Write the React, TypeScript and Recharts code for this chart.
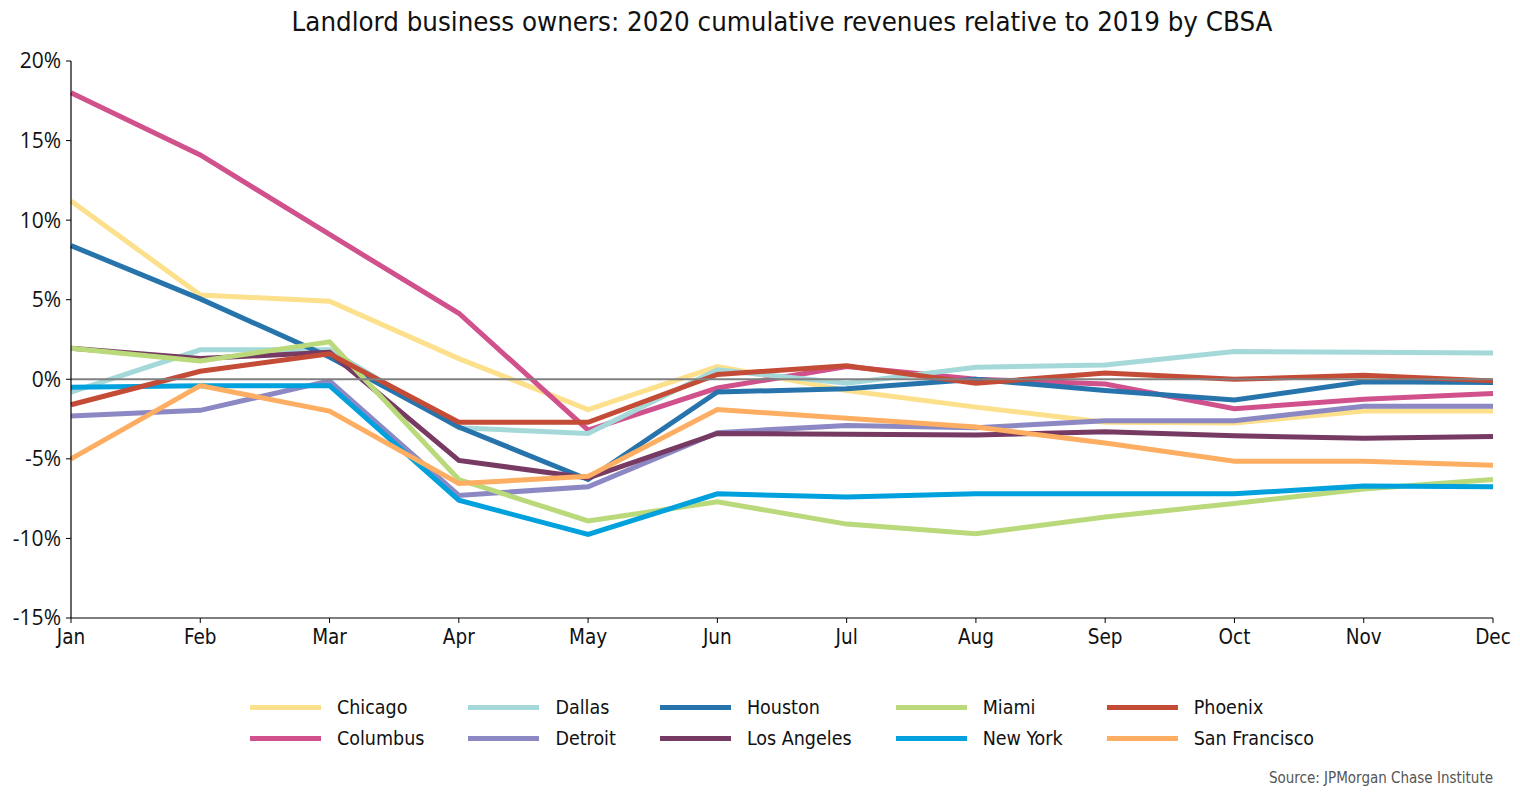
import React from 'react';
import { LineChart, Line, XAxis, YAxis, ReferenceLine } from 'recharts';

const months = ['Jan', 'Feb', 'Mar', 'Apr', 'May', 'Jun', 'Jul', 'Aug', 'Sep', 'Oct', 'Nov', 'Dec'];

const chicago = [11.2, 5.3, 4.9, 1.3, -1.9, 0.8, -0.7, -1.75, -2.7, -2.75, -2.0, -2.0];
const columbus = [18.0, 14.1, 9.1, 4.15, -3.2, -0.55, 0.8, 0.0, -0.3, -1.85, -1.25, -0.9];
const dallas = [-0.8, 1.85, 1.85, -3.05, -3.4, 0.6, -0.25, 0.75, 0.9, 1.75, 1.7, 1.65];
const detroit = [-2.3, -1.95, -0.1, -7.3, -6.75, -3.35, -2.9, -3.05, -2.6, -2.6, -1.7, -1.7];
const houston = [8.4, 5.05, 1.4, -3.0, -6.3, -0.8, -0.6, 0.0, -0.7, -1.3, -0.15, -0.2];
const losAngeles = [1.95, 1.3, 1.7, -5.1, -6.2, -3.4, -3.45, -3.5, -3.3, -3.55, -3.7, -3.6];
const miami = [1.95, 1.15, 2.35, -6.3, -8.9, -7.7, -9.1, -9.7, -8.65, -7.8, -6.9, -6.3];
const newYork = [-0.5, -0.4, -0.4, -7.6, -9.75, -7.2, -7.4, -7.2, -7.2, -7.2, -6.7, -6.75];
const phoenix = [-1.6, 0.5, 1.6, -2.7, -2.7, 0.3, 0.85, -0.25, 0.4, 0.0, 0.25, -0.1];
const sanFrancisco = [-5.0, -0.4, -2.0, -6.55, -6.1, -1.9, -2.45, -3.0, -4.0, -5.15, -5.15, -5.4];

const yTicks = [-15, -10, -5, 0, 5, 10, 15, 20];

const series = [
  { key: 'chicago', name: 'Chicago', values: chicago, color: '#fde08c' },
  { key: 'columbus', name: 'Columbus', values: columbus, color: '#d0518c' },
  { key: 'dallas', name: 'Dallas', values: dallas, color: '#a5d9d9' },
  { key: 'detroit', name: 'Detroit', values: detroit, color: '#8c88c4' },
  { key: 'houston', name: 'Houston', values: houston, color: '#2774ac' },
  { key: 'losAngeles', name: 'Los Angeles', values: losAngeles, color: '#773a62' },
  { key: 'miami', name: 'Miami', values: miami, color: '#b9d97b' },
  { key: 'newYork', name: 'New York', values: newYork, color: '#00a1dc' },
  { key: 'phoenix', name: 'Phoenix', values: phoenix, color: '#c44b36' },
  { key: 'sanFrancisco', name: 'San Francisco', values: sanFrancisco, color: '#fdae62' },
];

const data = months.map((m, i) => {
  const row: Record<string, any> = { month: m };
  series.forEach((s) => {
    row[s.key] = s.values[i];
  });
  return row;
});

const condensed = '"DejaVu Sans Condensed", "Liberation Sans Narrow", sans-serif';
const regular = '"Open Sans", "Noto Sans", sans-serif';

export default function App() {
  const legendCols: typeof series[] = [];
  for (let i = 0; i < series.length; i += 2) legendCols.push(series.slice(i, i + 2));

  return (
    <div style={{ position: 'absolute', left: 0, top: 0, width: 1520, height: 798, background: '#fff', overflow: 'hidden' }}>
      <div
        style={{
          position: 'absolute',
          left: 71,
          width: 1422,
          top: 6,
          textAlign: 'center',
          fontFamily: condensed,
          fontSize: 27.4,
          color: '#111',
          whiteSpace: 'nowrap',
        }}
      >
        Landlord business owners: 2020 cumulative revenues relative to 2019 by CBSA
      </div>
      <div style={{ position: 'absolute', left: 0, top: 0 }}>
        <LineChart width={1520} height={798} data={data} margin={{ top: 61, right: 27, left: 0, bottom: 140 }}>
          <XAxis
            dataKey="month"
            padding={{ left: 0, right: 0 }}
            height={40}
            tickSize={5}
            tickMargin={6}
            axisLine={{ stroke: '#000', strokeWidth: 1.2 }}
            tickLine={{ stroke: '#000' }}
            tick={{ fill: '#111', fontSize: 20.5, fontFamily: condensed }}
            interval={0}
          />
          <YAxis
            width={71}
            domain={[-15, 20]}
            ticks={yTicks}
            interval={0}
            tickFormatter={(v: number) => `${v}%`}
            tickSize={5}
            tickMargin={5}
            axisLine={{ stroke: '#000', strokeWidth: 1.2 }}
            tickLine={{ stroke: '#000' }}
            tick={{ fill: '#111', fontSize: 21, fontFamily: regular }}
          />
          {series.map((s) => (
            <Line
              key={s.key}
              type="linear"
              dataKey={s.key}
              name={s.name}
              stroke={s.color}
              strokeWidth={5}
              dot={false}
              activeDot={false}
              isAnimationActive={false}
            />
          ))}
          <ReferenceLine y={0} stroke="#808080" strokeWidth={2} ifOverflow="extendDomain" />
        </LineChart>
      </div>
      <div
        style={{
          position: 'absolute',
          left: 71,
          width: 1422,
          top: 694,
          display: 'flex',
          justifyContent: 'center',
          gap: 44,
          fontFamily: condensed,
          fontSize: 19.5,
          color: '#111',
        }}
      >
        {legendCols.map((col, ci) => (
          <div key={ci} style={{ display: 'flex', flexDirection: 'column', gap: 5 }}>
            {col.map((s) => (
              <div key={s.key} style={{ display: 'flex', alignItems: 'center', height: 26 }}>
                <div style={{ width: 71, height: 5, background: s.color, marginRight: 16 }} />
                <span style={{ whiteSpace: 'nowrap' }}>{s.name}</span>
              </div>
            ))}
          </div>
        ))}
      </div>
      <div
        style={{
          position: 'absolute',
          right: 27,
          top: 769,
          fontFamily: condensed,
          fontSize: 15,
          color: '#555',
          whiteSpace: 'nowrap',
        }}
      >
        Source: JPMorgan Chase Institute
      </div>
    </div>
  );
}
